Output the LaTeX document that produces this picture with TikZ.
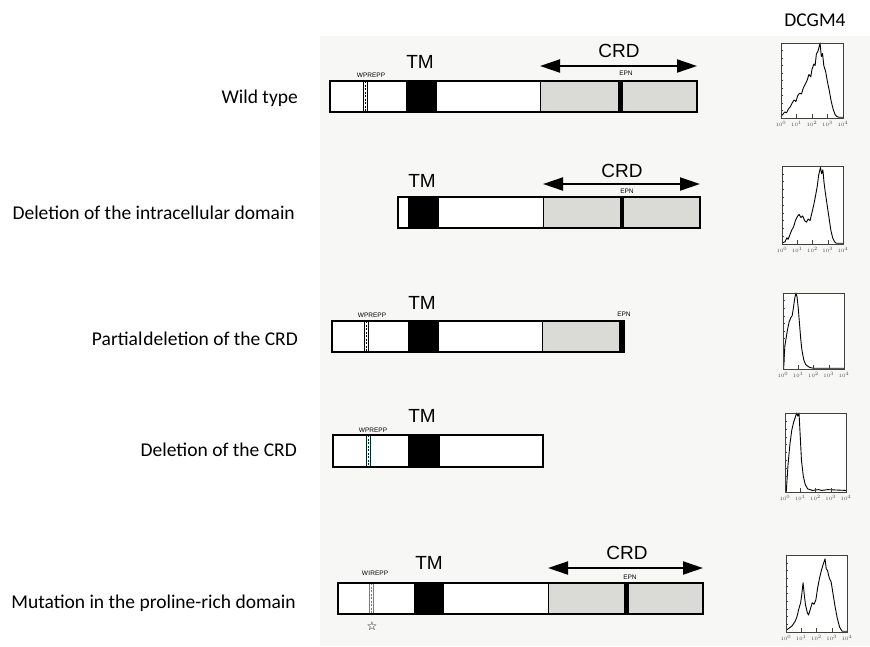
\documentclass[tikz,border=0pt]{standalone}
\usepackage{fontspec}
\setmainfont{Carlito}
\newfontfamily\arialf{Liberation Sans}
\newfontfamily\symf{DejaVu Sans}
\usetikzlibrary{arrows.meta}
\definecolor{scan}{HTML}{F7F7F5}
\definecolor{crdgray}{HTML}{DADAD7}
\definecolor{hatch}{HTML}{8A6F8F}
\tikzset{
  rowlabel/.style={anchor=east,font=\fontsize{19.5}{22}\selectfont,inner sep=0pt},
  domlabel/.style={font=\arialf\fontsize{19}{21}\selectfont,inner sep=0pt},
  tinylabel/.style={font=\arialf\fontsize{6.5}{7}\selectfont,inner sep=0pt},
  barframe/.style={draw=black,line width=1.5pt},
  tmbox/.style={fill=black},
  crdbox/.style={fill=crdgray},
  epnbar/.style={fill=black},
  crdarrow/.style={line width=2pt,{Triangle[length=20pt,width=13pt]}-{Triangle[length=20pt,width=13pt]}},
  histframe/.style={draw=black!75,line width=0.7pt},
  histcurve/.style={draw=black,line width=0.9pt,line join=round},
  ticklabel/.style={font=\fontsize{3.5}{4}\selectfont,inner sep=0pt,text=black!70},
}
% motif stripe (WPREPP)
\newcommand{\motif}[4][black]{% x, top, bottom
  \fill[white] (#2-2,#3) rectangle (#2+2,#4);
  \draw[#1,line width=0.8pt] (#2-2,#3) -- (#2-2,#4);
  \draw[#1,line width=0.8pt] (#2+2,#3) -- (#2+2,#4);
  \draw[#1,line width=0.8pt,dash pattern=on 2pt off 1.5pt] (#2,#3) -- (#2,#4);
}
% histogram frame with ticks and axis labels
\newcommand{\histbox}{%
  \draw[histframe] (0,0) rectangle (1,1);
  \foreach \v in {0.1,0.2,...,0.9} \draw[black!75,line width=0.4pt] (0,\v) -- (0.03,\v);
  \foreach \u in {0.25,0.5,0.75} \draw[black!75,line width=0.4pt] (\u,0) -- (\u,0.05);
  \foreach \u/\e in {0/0,0.25/1,0.5/2,0.75/3,1/4}
    \node[ticklabel] at (\u,-0.08) {$10^{\e}$};
}
\begin{document}
\begin{tikzpicture}[x=1pt,y=-1pt]
\useasboundingbox (0,0) rectangle (870,646);
% scanned panel background
\fill[scan] (320,36) rectangle (870,646);

% ---------- row labels ----------
\node[rowlabel] (l1) at (298,98)  {Wild type};
\node[rowlabel] (l2) at (295,213) {Deletion of the intracellular domain};
\node[rowlabel] (l3) at (298,339) {Partial\hspace{1pt}deletion of the CRD};
\node[rowlabel] (l4) at (297,450) {Deletion of the CRD};
\node[rowlabel] (l5) at (296,603) {Mutation in the proline-rich domain};
\node[font=\fontsize{19.5}{22}\selectfont,inner sep=0pt] (dcgm) at (815,20) {DCGM4};

% ---------- row 1: wild type ----------
\fill[white] (330,81) rectangle (697,112);
\fill[tmbox] (406,81) rectangle (437,112);
\fill[crdbox] (540,81) rectangle (697,112);
\fill[epnbar] (618,81) rectangle (623,112);
\motif{365}{81}{112}
\draw[barframe] (330,81) rectangle (697,112);
\draw[line width=1pt] (540,81) -- (540,112);
\node[domlabel] (tm1) at (420,62) {TM};
\node[domlabel] (crd1) at (619,51) {CRD};
\node[tinylabel] (wp1) at (371,75) {WPREPP};
\node[tinylabel] (epn1) at (626,73) {EPN};
\coordinate (c1l) at (540,66);
\coordinate (c1r) at (697,66);
\draw[crdarrow] (c1l) -- (c1r);

% ---------- row 2: intracellular deletion ----------
\fill[white] (398,197) rectangle (700,228);
\fill[tmbox] (408,197) rectangle (439,228);
\fill[crdbox] (543,197) rectangle (700,228);
\fill[epnbar] (620,197) rectangle (624,228);
\draw[barframe] (398,197) rectangle (700,228);
\draw[line width=1pt] (543,197) -- (543,228);
\node[domlabel] (tm2) at (422,181) {TM};
\node[domlabel] (crd2) at (622,171) {CRD};
\node[tinylabel] (epn2) at (627,191) {EPN};
\coordinate (c2l) at (543,184);
\coordinate (c2r) at (700,184);
\draw[crdarrow] (c2l) -- (c2r);

% ---------- row 3: partial CRD deletion ----------
\fill[white] (332,321) rectangle (624,352);
\fill[tmbox] (408,321) rectangle (439,352);
\fill[crdbox] (542,321) rectangle (624,352);
\fill[epnbar] (619,321) rectangle (624,352);
\motif{366}{321}{352}
\draw[barframe] (332,321) rectangle (624,352);
\draw[line width=1pt] (542,321) -- (542,352);
\node[domlabel] (tm3) at (422,303) {TM};
\node[tinylabel] (wp3) at (372,315) {WPREPP};
\node[tinylabel] (epn3) at (624,314) {EPN};

% ---------- row 4: CRD deletion ----------
\fill[white] (333,435) rectangle (543,467);
\fill[tmbox] (408,435) rectangle (440,467);
\motif[black!70!teal]{368}{435}{467}
\draw[barframe] (333,435) rectangle (543,467);
\node[domlabel] (tm4) at (422,416) {TM};
\node[tinylabel] (wp4) at (373,430) {WPREPP};

% ---------- row 5: proline-rich mutation ----------
\fill[white] (338,583) rectangle (703,614);
\fill[tmbox] (414,583) rectangle (444,614);
\fill[crdbox] (548,583) rectangle (703,614);
\fill[epnbar] (624,583) rectangle (629,614);
\motif[hatch]{371}{583}{614}
\draw[barframe] (338,583) rectangle (703,614);
\draw[line width=1pt] (548,583) -- (548,614);
\node[domlabel] (tm5) at (429,563) {TM};
\node[domlabel] (crd5) at (627,553) {CRD};
\node[tinylabel] (wp5) at (375,573) {W\hspace{0.3pt}I\hspace{0.3pt}REPP};
\node[tinylabel] (epn5) at (630,577) {EPN};
\node[font=\symf\fontsize{12}{12}\selectfont,inner sep=0pt] (star) at (372,626) {☆};
\coordinate (c5l) at (548,568);
\coordinate (c5r) at (703,568);
\draw[crdarrow] (c5l) -- (c5r);

% ---------- histograms ----------
\begin{scope}[shift={(781,118)},x=62pt,y=75pt]
  \fill[white] (0,0) rectangle (1,1);
  \draw[histcurve] plot coordinates {(0,0.02)(0.03,0.05)(0.06,0.08)(0.09,0.07)(0.12,0.12)(0.15,0.15)(0.18,0.2)(0.21,0.24)(0.24,0.22)(0.27,0.3)(0.3,0.33)(0.33,0.32)(0.36,0.4)(0.39,0.45)(0.42,0.5)(0.45,0.58)(0.48,0.55)(0.5,0.65)(0.53,0.72)(0.55,0.7)(0.57,0.85)(0.6,0.9)(0.63,1.0)(0.65,0.82)(0.67,0.86)(0.69,0.7)(0.72,0.62)(0.75,0.48)(0.78,0.36)(0.81,0.22)(0.84,0.12)(0.87,0.05)(0.9,0.02)(0.93,0.01)(1,0.01)};
  \histbox
\end{scope}
\begin{scope}[shift={(782,244)},x=61pt,y=78pt]
  \fill[white] (0,0) rectangle (1,1);
  \draw[histcurve] plot coordinates {(0,0.01)(0.05,0.03)(0.08,0.08)(0.1,0.06)(0.13,0.12)(0.16,0.18)(0.19,0.22)(0.22,0.3)(0.25,0.35)(0.28,0.38)(0.31,0.34)(0.34,0.36)(0.37,0.3)(0.4,0.28)(0.43,0.32)(0.46,0.3)(0.49,0.4)(0.52,0.5)(0.55,0.62)(0.58,0.75)(0.6,0.88)(0.63,0.98)(0.65,0.9)(0.67,0.95)(0.69,0.78)(0.71,0.66)(0.74,0.5)(0.77,0.34)(0.8,0.18)(0.83,0.08)(0.86,0.03)(0.89,0.01)(1,0.01)};
  \histbox
\end{scope}
\begin{scope}[shift={(783,369)},x=61pt,y=76pt]
  \fill[white] (0,0) rectangle (1,1);
  \draw[histcurve] plot coordinates {(0.01,0)(0.03,0.3)(0.07,0.5)(0.1,0.62)(0.13,0.68)(0.15,0.7)(0.17,0.8)(0.19,0.92)(0.21,1.0)(0.23,0.95)(0.25,0.8)(0.27,0.6)(0.29,0.4)(0.31,0.25)(0.34,0.12)(0.37,0.06)(0.4,0.04)(0.44,0.02)(0.5,0.01)(1,0.01)};
  \histbox
\end{scope}
\begin{scope}[shift={(785,492)},x=61pt,y=79pt]
  \fill[white] (0,0) rectangle (1,1);
  \draw[histcurve] plot coordinates {(0.02,0)(0.05,0.35)(0.08,0.6)(0.11,0.78)(0.14,0.88)(0.17,0.95)(0.19,1.0)(0.21,0.96)(0.23,1.0)(0.25,0.7)(0.27,0.4)(0.3,0.2)(0.33,0.1)(0.37,0.04)(0.45,0.02)(0.55,0.03)(0.6,0.02)(0.7,0.03)(1,0.02)};
  \histbox
\end{scope}
\begin{scope}[shift={(786,632)},x=61pt,y=77pt]
  \fill[white] (0,0) rectangle (1,1);
  \draw[histcurve] plot coordinates {(0,0.02)(0.05,0.05)(0.1,0.08)(0.15,0.14)(0.18,0.2)(0.21,0.3)(0.24,0.38)(0.26,0.5)(0.28,0.64)(0.3,0.48)(0.32,0.35)(0.35,0.25)(0.37,0.22)(0.4,0.3)(0.43,0.38)(0.46,0.36)(0.49,0.42)(0.52,0.58)(0.55,0.7)(0.58,0.8)(0.61,0.88)(0.64,0.95)(0.66,0.82)(0.68,0.8)(0.71,0.7)(0.74,0.65)(0.77,0.5)(0.8,0.35)(0.84,0.18)(0.88,0.06)(0.92,0.01)(1,0.01)};
  \histbox
\end{scope}
\end{tikzpicture}
\end{document}
